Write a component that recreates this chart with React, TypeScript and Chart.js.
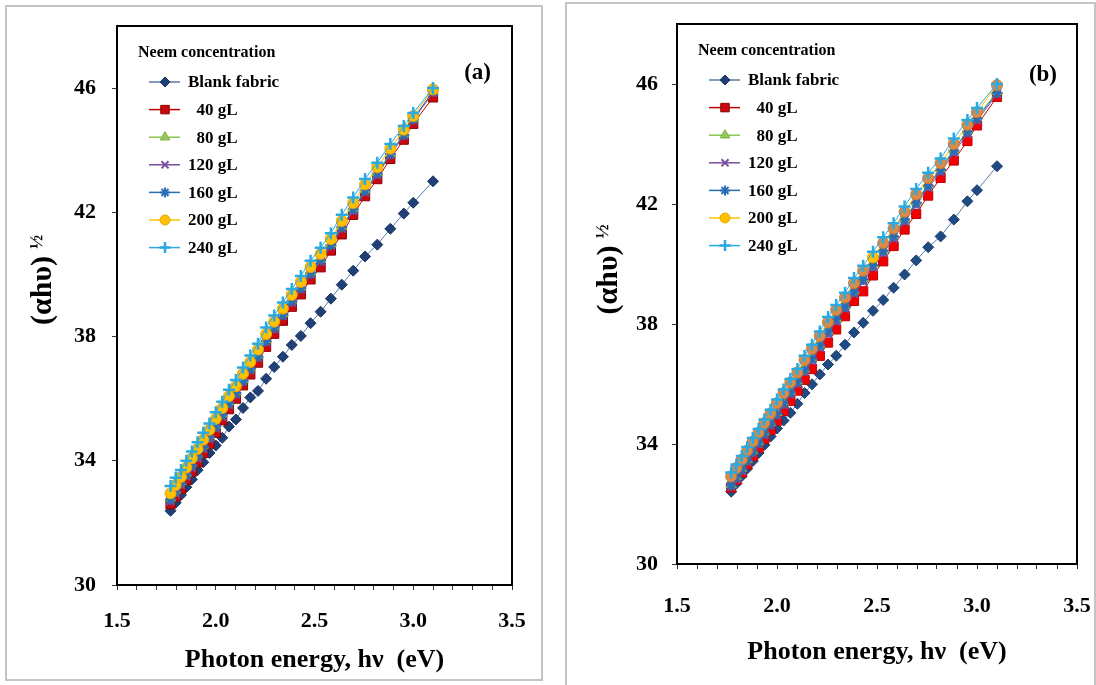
import React, { useEffect, useRef } from 'react';
import { Chart, registerables } from 'chart.js';
import { drawPoint } from 'chart.js/helpers';

Chart.register(...registerables);

const FONT = '"Liberation Serif", "Times New Roman", serif';

// Photon energy hv (eV) of the measured points
const HV = [1.771, 1.797, 1.824, 1.851, 1.879, 1.908, 1.937, 1.968, 2.000, 2.033, 2.067, 2.102, 2.138, 2.175, 2.214, 2.255, 2.296, 2.340, 2.385, 2.431, 2.480, 2.531, 2.583, 2.638, 2.696, 2.756, 2.818, 2.884, 2.952, 3.000, 3.100];

const SERIES_NAMES = ['Blank fabric', '  40 gL', '  80 gL', '120 gL', '160 gL', '200 gL', '240 gL'];
const LEGEND_TITLE = 'Neem concentration';
const X_TITLE = 'Photon energy, hν  (eV)';
const Y_TITLE = '(αhυ)';
const Y_TITLE_SUP = '½';
const Y_TICKS = [30, 34, 38, 42, 46];
const X_TICK_LABELS = ['1.5', '2.0', '2.5', '3.0', '3.5'];

// Panel (a)
const A_BLANK = [32.39, 32.65, 32.90, 33.15, 33.40, 33.70, 33.95, 34.25, 34.49, 34.74, 35.10, 35.33, 35.70, 36.04, 36.25, 36.64, 37.02, 37.35, 37.73, 38.02, 38.43, 38.80, 39.22, 39.67, 40.12, 40.58, 40.96, 41.47, 41.96, 42.31, 43.00];
const A_40 = [32.60, 32.85, 33.10, 33.38, 33.65, 33.95, 34.25, 34.55, 34.90, 35.30, 35.66, 36.00, 36.43, 36.78, 37.16, 37.67, 38.09, 38.51, 38.96, 39.36, 39.84, 40.23, 40.77, 41.29, 41.92, 42.52, 43.07, 43.72, 44.34, 44.85, 45.70];
const A_80 = [32.80, 33.05, 33.32, 33.60, 33.90, 34.20, 34.50, 34.82, 35.15, 35.52, 35.90, 36.22, 36.62, 37.00, 37.40, 37.90, 38.32, 38.74, 39.18, 39.60, 40.08, 40.50, 40.98, 41.55, 42.12, 42.72, 43.28, 43.90, 44.52, 45.00, 45.88];
const A_120 = [32.70, 32.95, 33.22, 33.50, 33.78, 34.08, 34.38, 34.70, 35.04, 35.42, 35.80, 36.14, 36.55, 36.92, 37.32, 37.82, 38.24, 38.66, 39.10, 39.52, 40.00, 40.42, 40.92, 41.48, 42.05, 42.65, 43.20, 43.85, 44.48, 44.98, 45.85];
const A_160 = [32.75, 33.00, 33.27, 33.55, 33.84, 34.14, 34.44, 34.76, 35.10, 35.48, 35.86, 36.18, 36.58, 36.96, 37.36, 37.86, 38.28, 38.70, 39.14, 39.56, 40.04, 40.46, 40.95, 41.52, 42.10, 42.70, 43.25, 43.88, 44.50, 45.00, 45.90];
const A_200 = [32.95, 33.22, 33.48, 33.78, 34.08, 34.38, 34.68, 35.00, 35.35, 35.70, 36.08, 36.40, 36.80, 37.18, 37.58, 38.08, 38.48, 38.90, 39.34, 39.76, 40.24, 40.66, 41.14, 41.72, 42.30, 42.90, 43.45, 44.05, 44.66, 45.10, 45.96];
const A_240 = [33.19, 33.45, 33.70, 34.00, 34.30, 34.60, 34.90, 35.20, 35.56, 35.90, 36.29, 36.60, 37.00, 37.39, 37.77, 38.29, 38.68, 39.10, 39.53, 39.95, 40.44, 40.86, 41.33, 41.92, 42.48, 43.07, 43.60, 44.20, 44.78, 45.20, 46.00];

// Panel (b)
const B_BLANK = [32.41, 32.68, 32.93, 33.18, 33.43, 33.70, 33.97, 34.25, 34.52, 34.78, 35.04, 35.34, 35.70, 35.99, 36.32, 36.65, 36.94, 37.31, 37.72, 38.04, 38.44, 38.80, 39.21, 39.65, 40.12, 40.56, 40.92, 41.48, 42.09, 42.46, 43.26];
const B_40 = [32.55, 32.80, 33.05, 33.32, 33.60, 33.88, 34.17, 34.47, 34.78, 35.10, 35.44, 35.78, 36.14, 36.50, 36.94, 37.38, 37.82, 38.26, 38.77, 39.09, 39.62, 40.09, 40.60, 41.15, 41.67, 42.28, 42.87, 43.45, 44.10, 44.62, 45.57];
const B_80 = [32.65, 32.92, 33.18, 33.48, 33.78, 34.08, 34.40, 34.72, 35.05, 35.40, 35.76, 36.10, 36.50, 36.88, 37.32, 37.78, 38.20, 38.62, 39.12, 39.52, 40.00, 40.48, 40.96, 41.52, 42.08, 42.66, 43.18, 43.82, 44.46, 44.90, 45.75];
const B_120 = [32.58, 32.84, 33.10, 33.40, 33.70, 34.00, 34.30, 34.62, 34.95, 35.30, 35.66, 36.00, 36.40, 36.78, 37.20, 37.66, 38.08, 38.50, 39.00, 39.40, 39.88, 40.36, 40.84, 41.40, 41.96, 42.54, 43.06, 43.70, 44.34, 44.78, 45.66];
const B_160 = [32.62, 32.88, 33.15, 33.44, 33.74, 34.04, 34.35, 34.67, 35.00, 35.35, 35.72, 36.06, 36.46, 36.84, 37.28, 37.74, 38.16, 38.58, 39.08, 39.48, 39.96, 40.44, 40.92, 41.48, 42.04, 42.62, 43.14, 43.78, 44.42, 44.86, 45.70];
const B_200 = [32.92, 33.20, 33.48, 33.78, 34.08, 34.38, 34.70, 35.02, 35.36, 35.70, 36.05, 36.38, 36.80, 37.17, 37.60, 38.06, 38.47, 38.88, 39.36, 39.78, 40.22, 40.70, 41.18, 41.74, 42.32, 42.86, 43.36, 44.00, 44.64, 45.06, 45.96];
const B_240 = [33.05, 33.32, 33.60, 33.90, 34.20, 34.50, 34.82, 35.14, 35.48, 35.82, 36.17, 36.50, 36.94, 37.31, 37.75, 38.23, 38.63, 39.04, 39.53, 39.94, 40.41, 40.89, 41.36, 41.92, 42.50, 43.04, 43.52, 44.18, 44.80, 45.20, 46.00];

// Styles
const MARKERS = ['rectRot', 'rect', 'triangle', 'crossRot', 'star', 'circle', 'cross'];
const RADII = [5.5, 6.5, 6, 5.5, 5.5, 5.5, 6];
const BORDER_W = [1, 1, 1, 2, 2, 1, 2.5];
const LINE_COLORS = ['#5A78A8', '#C00000', '#8DC653', '#7B4FA0', '#2A6DB3', '#FFC000', '#2AAAE1'];
const FILL_A = ['#1F3F75', '#C80A10', '#95C85A', '#7B4FA0', '#2A6DB3', '#FFC000', '#2AAAE1'];
const EDGE_A = ['#1A3563', '#8E0000', '#7DAF43', '#7B4FA0', '#2A6DB3', '#EBA600', '#2AAAE1'];
const FILL_B = ['#1F4A82', '#F20000', '#95C85A', '#7B4FA0', '#2A6DB3', '#DB8B45', '#2AAAE1'];
const EDGE_B = ['#1A3F70', '#C00000', '#7DAF43', '#7B4FA0', '#2A6DB3', '#C9793A', '#2AAAE1'];
const LEGEND_FILL = ['#1F3F75', '#C80A10', '#95C85A', '#7B4FA0', '#2A6DB3', '#FFC000', '#2AAAE1'];
const LEGEND_EDGE = ['#1A3563', '#8E0000', '#7DAF43', '#7B4FA0', '#2A6DB3', '#EBA600', '#2AAAE1'];

const X_TICK_VALUES = Array.from({ length: 21 }, (_, i) => Math.round((1.5 + i * 0.1) * 10) / 10);

type Spec = {
  tag: string;
  series: number[][];
  fill: string[];
  edge: string[];
  pointFill?: (dsIndex: number, i: number) => string | undefined;
  frame: [number, number, number, number];
  canvas: [number, number, number, number];
  padTop: number;
  padRight: number;
  xAxisH: number;
  xTickPad: number;
  xTitlePad: number;
  yTickPad: number;
  yTitleDx: number;
  yTitleDy: number;
  tagDx: number;
  tagDy: number;
};

const PANELS: Spec[] = [
  {
    tag: '(a)',
    series: [A_BLANK, A_40, A_80, A_120, A_160, A_200, A_240],
    fill: FILL_A,
    edge: EDGE_A,
    frame: [5, 5, 538, 676],
    canvas: [7, 7, 534, 672],
    padTop: 19,
    padRight: 29,
    xAxisH: 94,
    xTickPad: 18,
    xTitlePad: 3,
    yTickPad: 16,
    yTitleDx: 74,
    yTitleDy: -15,
    tagDx: 21,
    tagDy: 47,
  },
  {
    tag: '(b)',
    series: [B_BLANK, B_40, B_80, B_120, B_160, B_200, B_240],
    fill: FILL_B,
    edge: EDGE_B,
    pointFill: (d, i) => (d === 5 && HV[i] === 2.48 ? '#FFC000' : undefined),
    frame: [565, 2, 531, 700],
    canvas: [567, 4, 527, 681],
    padTop: 20,
    padRight: 17,
    xAxisH: 121,
    xTickPad: 24,
    xTitlePad: 17,
    yTickPad: 14,
    yTitleDx: 68,
    yTitleDy: -14,
    tagDx: 20,
    tagDy: 51,
  },
];

const framePlugin = {
  id: 'frame',
  beforeDatasetsDraw(chart: any) {
    const { ctx, chartArea: a } = chart;
    ctx.save();
    ctx.strokeStyle = '#000';
    ctx.lineWidth = 2;
    ctx.strokeRect(a.left, a.top, a.right - a.left, a.bottom - a.top);
    ctx.restore();
  },
};

function makeDecor(spec: Spec) {
  return {
    id: 'decor',
    afterDraw(chart: any) {
      const { ctx, chartArea: a } = chart;
      ctx.save();
      ctx.fillStyle = '#000';
      // Y title with superscript
      const cx = a.left - spec.yTitleDx;
      const cy = (a.top + a.bottom) / 2 + spec.yTitleDy;
      ctx.translate(cx, cy);
      ctx.rotate(-Math.PI / 2);
      ctx.font = `bold 30px ${FONT}`;
      ctx.textAlign = 'center';
      ctx.textBaseline = 'middle';
      ctx.fillText(Y_TITLE, 0, 0);
      const w = ctx.measureText(Y_TITLE).width;
      ctx.font = `bold 19px ${FONT}`;
      ctx.textAlign = 'left';
      ctx.fillText(Y_TITLE_SUP, w / 2 + 7, -6);
      ctx.restore();

      // panel tag
      ctx.save();
      ctx.fillStyle = '#000';
      ctx.font = `bold 23px ${FONT}`;
      ctx.textAlign = 'right';
      ctx.textBaseline = 'middle';
      ctx.fillText(spec.tag, a.right - spec.tagDx, a.top + spec.tagDy);

      // legend
      const L = a.left;
      const T = a.top;
      ctx.font = `bold 16px ${FONT}`;
      ctx.textAlign = 'left';
      ctx.fillText(LEGEND_TITLE, L + 21, T + 27);
      ctx.font = `bold 17px ${FONT}`;
      SERIES_NAMES.forEach((name, i) => {
        const y = T + 56 + i * 27.6;
        ctx.strokeStyle = LINE_COLORS[i];
        ctx.lineWidth = 1.5;
        ctx.beginPath();
        ctx.moveTo(L + 32, y);
        ctx.lineTo(L + 63, y);
        ctx.stroke();
        ctx.fillStyle = LEGEND_FILL[i];
        ctx.strokeStyle = LEGEND_EDGE[i];
        ctx.lineWidth = BORDER_W[i];
        drawPoint(ctx, { pointStyle: MARKERS[i] as any, radius: RADII[i] - 0.5, rotation: 0, borderWidth: BORDER_W[i] } as any, L + 48, y);
        ctx.fillStyle = '#000';
        ctx.fillText(name, L + 71, y + 1);
      });
      ctx.restore();
    },
  };
}

function buildConfig(spec: Spec): any {
  const datasets = spec.series.map((ys, d) => ({
    label: SERIES_NAMES[d].trim(),
    data: HV.map((x, i) => ({ x, y: ys[i] })),
    showLine: true,
    borderColor: LINE_COLORS[d],
    borderWidth: 1,
    pointStyle: MARKERS[d],
    pointRadius: RADII[d],
    pointBorderWidth: BORDER_W[d],
    pointBackgroundColor: spec.pointFill
      ? HV.map((_, i) => spec.pointFill!(d, i) || spec.fill[d])
      : spec.fill[d],
    pointBorderColor: spec.pointFill
      ? HV.map((_, i) => (spec.pointFill!(d, i) ? '#EBA600' : spec.edge[d]))
      : spec.edge[d],
    order: spec.series.length - 1 - d,
  }));
  const tickFont = { family: FONT, size: 22, weight: 'bold' as const };
  return {
    type: 'scatter',
    data: { datasets },
    options: {
      animation: false,
      responsive: false,
      devicePixelRatio: 1,
      layout: { padding: { left: 0, top: spec.padTop, right: spec.padRight, bottom: 0 } },
      plugins: { legend: { display: false }, tooltip: { enabled: false } },
      scales: {
        x: {
          type: 'linear',
          min: 1.5,
          max: 3.5,
          afterBuildTicks: (s: any) => {
            s.ticks = X_TICK_VALUES.map((v) => ({ value: v }));
          },
          afterFit: (s: any) => {
            s.height = spec.xAxisH;
            s.paddingLeft = 0;
            s.paddingRight = 0;
          },
          ticks: {
            autoSkip: false,
            maxRotation: 0,
            padding: spec.xTickPad,
            color: '#000',
            font: tickFont,
            callback: (v: number) => {
              const k = X_TICK_LABELS.indexOf(Number(v).toFixed(1));
              return k >= 0 ? X_TICK_LABELS[k] : '';
            },
          },
          grid: { display: true, drawOnChartArea: false, drawTicks: true, tickLength: 5, color: '#333', lineWidth: 1 },
          border: { display: false },
          title: {
            display: true,
            text: X_TITLE,
            color: '#000',
            font: { family: FONT, size: 26, weight: 'bold' },
            padding: { top: 0, bottom: spec.xTitlePad },
          },
        },
        y: {
          type: 'linear',
          min: 30,
          max: 48,
          afterBuildTicks: (s: any) => {
            s.ticks = Y_TICKS.map((v) => ({ value: v }));
          },
          afterFit: (s: any) => {
            s.width = 110;
            s.paddingTop = 0;
            s.paddingBottom = 0;
          },
          ticks: {
            padding: spec.yTickPad,
            color: '#000',
            font: tickFont,
            callback: (v: number) => String(v),
          },
          grid: { display: true, drawOnChartArea: false, drawTicks: true, tickLength: 5, color: '#333', lineWidth: 1 },
          border: { display: false },
          title: { display: false },
        },
      },
    },
    plugins: [framePlugin, makeDecor(spec)],
  };
}

function Panel({ spec }: { spec: Spec }) {
  const ref = useRef<HTMLCanvasElement>(null);
  useEffect(() => {
    const chart = new Chart(ref.current as HTMLCanvasElement, buildConfig(spec));
    return () => chart.destroy();
  }, [spec]);
  const [fl, ft, fw, fh] = spec.frame;
  const [cl, ct, cw, ch] = spec.canvas;
  return (
    <>
      <div
        style={{
          position: 'absolute',
          left: fl,
          top: ft,
          width: fw,
          height: fh,
          border: '2px solid #C4C4C4',
          boxSizing: 'border-box',
        }}
      />
      <canvas
        ref={ref}
        width={cw}
        height={ch}
        style={{ position: 'absolute', left: cl, top: ct, width: cw, height: ch }}
      />
    </>
  );
}

export default function App() {
  return (
    <div
      style={{
        position: 'absolute',
        left: 0,
        top: 0,
        width: 1096,
        height: 685,
        overflow: 'hidden',
        background: '#fff',
      }}
    >
      {PANELS.map((p) => (
        <Panel key={p.tag} spec={p} />
      ))}
    </div>
  );
}
